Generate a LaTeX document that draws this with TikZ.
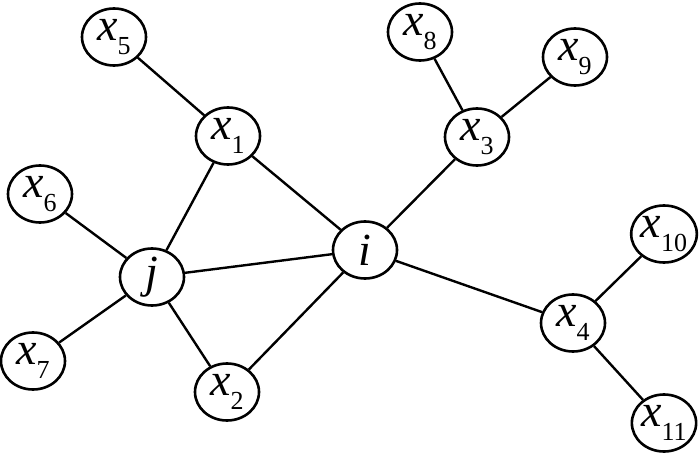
\documentclass[tikz,border=0pt]{standalone}
\usepackage{fontspec}
\setmainfont{Liberation Serif}
\usetikzlibrary{shapes.geometric}
\newcommand{\xs}[1]{\textit{x}\raisebox{-14pt}{\fontsize{26}{26}\selectfont #1}}
\begin{document}
\begin{tikzpicture}[x=1pt,y=-1pt,
  vnode/.style={draw,ellipse,line width=2.6pt,minimum width=64pt,minimum height=57pt,inner sep=0pt,font=\fontsize{46}{46}\selectfont},
  edge/.style={line width=2.4pt}]
\useasboundingbox (0,0) rectangle (700,454);
\node[vnode] (x5) at (114,37) {\xs{5}};
\node[vnode] (x1) at (228,136) {\xs{1}};
\node[vnode] (x8) at (420,32) {\xs{8}};
\node[vnode] (x9) at (575,57) {\xs{9}};
\node[vnode] (x3) at (477,137) {\xs{3}};
\node[vnode] (x6) at (40,194) {\xs{6}};
\node[vnode] (j) at (152,277) {\textit{j}};
\node[vnode] (i) at (365,250) {\textit{i}};
\node[vnode] (x10) at (664,234) {\xs{10}};
\node[vnode] (x4) at (573,323) {\xs{4}};
\node[vnode] (x7) at (33,361) {\xs{7}};
\node[vnode] (x2) at (227,392) {\xs{2}};
\node[vnode] (x11) at (664,423) {\xs{11}};
\draw[edge] (x5) -- (x1);
\draw[edge] (x1) -- (j);
\draw[edge] (x1) -- (i);
\draw[edge] (x6) -- (j);
\draw[edge] (x7) -- (j);
\draw[edge] (j) -- (i);
\draw[edge] (j) -- (x2);
\draw[edge] (x2) -- (i);
\draw[edge] (i) -- (x3);
\draw[edge] (x3) -- (x8);
\draw[edge] (x3) -- (x9);
\draw[edge] (i) -- (x4);
\draw[edge] (x4) -- (x10);
\draw[edge] (x4) -- (x11);
\end{tikzpicture}
\end{document}
